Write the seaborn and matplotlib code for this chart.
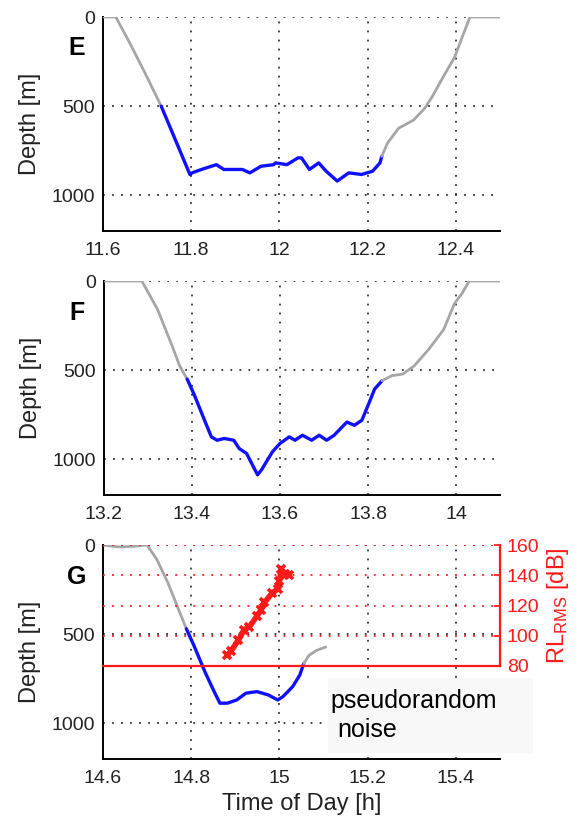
import matplotlib
matplotlib.use("Agg")
import matplotlib.pyplot as plt
import seaborn as sns
import pandas as pd
from matplotlib.patches import Rectangle

# ---------------- data ----------------
E_gray1_t = [11.600, 11.629, 11.662, 11.696, 11.732]
E_gray1_d = [0, 0, 152, 318, 500]
E_blue_t = [11.732, 11.797, 11.802, 11.823, 11.857, 11.874, 11.916, 11.933, 11.958, 11.987, 11.991,
            12.017, 12.042, 12.050, 12.068, 12.089, 12.106, 12.131, 12.157, 12.186, 12.211, 12.228, 12.232]
E_blue_d = [500, 883, 874, 855, 828, 855, 855, 874, 837, 828, 818,
            828, 790, 790, 855, 818, 865, 920, 874, 883, 865, 818, 781]
E_gray2_t = [12.232, 12.245, 12.270, 12.304, 12.329, 12.346, 12.371, 12.397, 12.414, 12.432, 12.498]
E_gray2_d = [781, 707, 624, 578, 513, 448, 337, 226, 115, 0, 0]

F_gray1_t = [13.200, 13.286, 13.322, 13.355, 13.372, 13.389]
F_gray1_d = [0, 0, 161, 365, 476, 550]
F_blue_t = [13.389, 13.406, 13.427, 13.444, 13.457, 13.473, 13.495, 13.507, 13.524, 13.549, 13.558,
            13.583, 13.600, 13.621, 13.634, 13.651, 13.672, 13.689, 13.706, 13.723, 13.752, 13.769,
            13.786, 13.803, 13.815, 13.832]
F_blue_d = [550, 643, 772, 874, 893, 883, 893, 939, 967, 1087, 1059,
            957, 911, 874, 893, 865, 893, 865, 893, 865, 791, 809,
            781, 680, 606, 559]
F_gray2_t = [13.832, 13.854, 13.879, 13.905, 13.938, 13.972, 13.997, 14.014, 14.030, 14.100]
F_gray2_d = [559, 531, 522, 476, 383, 272, 124, 69, 0, 0]

G_gray1_t = [14.600, 14.637, 14.671, 14.700, 14.722, 14.747, 14.768, 14.789]
G_gray1_d = [0, 11, 7, 0, 81, 211, 341, 470]
G_blue_t = [14.789, 14.806, 14.831, 14.852, 14.865, 14.882, 14.903, 14.924, 14.949, 14.975, 14.996,
            15.008, 15.030, 15.046, 15.055]
G_blue_d = [470, 563, 711, 822, 887, 887, 869, 831, 822, 841, 869,
            850, 794, 730, 665]
G_gray2_t = [15.055, 15.067, 15.084, 15.105]
G_gray2_d = [665, 619, 591, 572]

RL_t = [14.882, 14.890, 14.907, 14.920, 14.932, 14.949, 14.958, 14.966, 14.983, 14.996, 15.000,
        15.004, 15.013, 15.021]
RL_db = [87, 90, 97, 104, 106, 113, 117, 122, 128, 131, 136, 144, 141, 140]

panel_letters = ["E", "F", "G"]
x_ticks = [[11.6, 11.8, 12.0, 12.2, 12.4],
           [13.2, 13.4, 13.6, 13.8, 14.0],
           [14.6, 14.8, 15.0, 15.2, 15.4]]
x_ticklabels = [["11.6", "11.8", "12", "12.2", "12.4"],
                ["13.2", "13.4", "13.6", "13.8", "14"],
                ["14.6", "14.8", "15", "15.2", "15.4"]]
x_limits = [(11.6, 12.5), (13.2, 14.1), (14.6, 15.5)]
depth_ticks = [0, 500, 1000]
rl_ticks = [80, 100, 120, 140, 160]

# ---------------- style ----------------
sns.set_theme(style="white")
plt.rcParams["font.family"] = ["Liberation Sans", "DejaVu Sans"]
plt.rcParams["mathtext.fontset"] = "custom"
plt.rcParams["mathtext.rm"] = "Liberation Sans"
plt.rcParams["mathtext.it"] = "Liberation Sans"

GRAY = "#a6a6a6"
BLUE = "#1010ff"
RED = "#ff1a1a"
DOT = (0, (1, 4))

fig = plt.figure(figsize=(5.85, 8.24), dpi=100)

W, H = 585.0, 824.0
def ax_rect(left, right, top, bottom):
    return [left / W, 1 - bottom / H, (right - left) / W, (bottom - top) / H]

rects = [ax_rect(103, 500, 17, 231), ax_rect(104, 500, 281, 495), ax_rect(103, 500, 545, 759)]
series = [
    [(E_gray1_t, E_gray1_d, GRAY), (E_blue_t, E_blue_d, BLUE), (E_gray2_t, E_gray2_d, GRAY)],
    [(F_gray1_t, F_gray1_d, GRAY), (F_blue_t, F_blue_d, BLUE), (F_gray2_t, F_gray2_d, GRAY)],
    [(G_gray1_t, G_gray1_d, GRAY), (G_blue_t, G_blue_d, BLUE), (G_gray2_t, G_gray2_d, GRAY)],
]
letter_y = [48, 313, 577]

axes = []
for i in range(3):
    ax = fig.add_axes(rects[i])
    for t, d, c in series[i]:
        df = pd.DataFrame({"t": t, "d": d})
        sns.lineplot(data=df, x="t", y="d", ax=ax, color=c, lw=2.4 if c == BLUE else 2.0,
                     sort=False, estimator=None, zorder=3)
    ax.set_xlim(*x_limits[i])
    ax.set_ylim(1200, 0)
    ax.set_xticks(x_ticks[i])
    ax.set_xticklabels(x_ticklabels[i])
    ax.set_yticks(depth_ticks)
    ax.set_yticklabels([str(v) for v in depth_ticks])
    for s in ["top", "right"]:
        ax.spines[s].set_visible(False)
    for s in ["left", "bottom"]:
        ax.spines[s].set_color("black")
        ax.spines[s].set_linewidth(1.4)
    ax.tick_params(direction="in", length=4, width=1, colors="black", labelsize=14,
                   labelcolor="#222222")
    ax.tick_params(axis="x", pad=8)
    ax.tick_params(axis="y", pad=6)
    ax.grid(True, color="#333333", linestyle=DOT, lw=1.3)
    ax.set_axisbelow(True)
    ax.set_xlabel("")
    ax.set_ylabel("Depth [m]", fontsize=17, labelpad=7, color="#222222")
    fig.text(77 / W, 1 - letter_y[i] / H, panel_letters[i], fontsize=18, fontweight="bold",
             ha="center", va="center", color="black")
    ax.patch.set_alpha(0)
    axes.append(ax)

axes[2].set_xlabel("Time of Day [h]", fontsize=17, labelpad=4, color="#222222")

# received level axis on panel G
axr = fig.add_axes(ax_rect(103, 500, 545, 666), sharex=axes[2])
axr.patch.set_alpha(0)
sns.lineplot(x=RL_t, y=RL_db, ax=axr, color=RED, lw=4, marker="x", markersize=6,
             markeredgewidth=2.6, markeredgecolor=RED, sort=False, estimator=None, zorder=4)
axr.set_ylim(80, 160)
axr.set_yticks(rl_ticks)
axr.set_yticklabels([str(v) for v in rl_ticks])
axr.yaxis.tick_right()
axr.yaxis.set_label_position("right")
for s in ["top", "left"]:
    axr.spines[s].set_visible(False)
for s in ["right", "bottom"]:
    axr.spines[s].set_color(RED)
    axr.spines[s].set_linewidth(1.6)
axr.tick_params(axis="y", direction="in", length=4, colors=RED, labelsize=14, pad=5)
axr.tick_params(axis="x", bottom=False, labelbottom=False)
axr.grid(True, axis="y", color=RED, linestyle=DOT, lw=1.3)
axr.grid(False, axis="x")
axr.set_xlabel("")
axr.set_ylabel(r"RL$_{\mathrm{RMS}}$ [dB]", fontsize=17, color=RED, labelpad=4)

# note box
fig.patches.append(Rectangle((328 / W, 1 - 753 / H), (533 - 328) / W, (753 - 678) / H,
                             transform=fig.transFigure, facecolor="#f8f8f8",
                             edgecolor="none", zorder=5))
fig.text(330 / W, 1 - 708 / H, "pseudorandom", fontsize=18, ha="left", va="baseline",
         color="black", zorder=6)
fig.text(337 / W, 1 - 737 / H, "noise", fontsize=18, ha="left", va="baseline",
         color="black", zorder=6)

fig.savefig("out.png", dpi=100, facecolor="white")
